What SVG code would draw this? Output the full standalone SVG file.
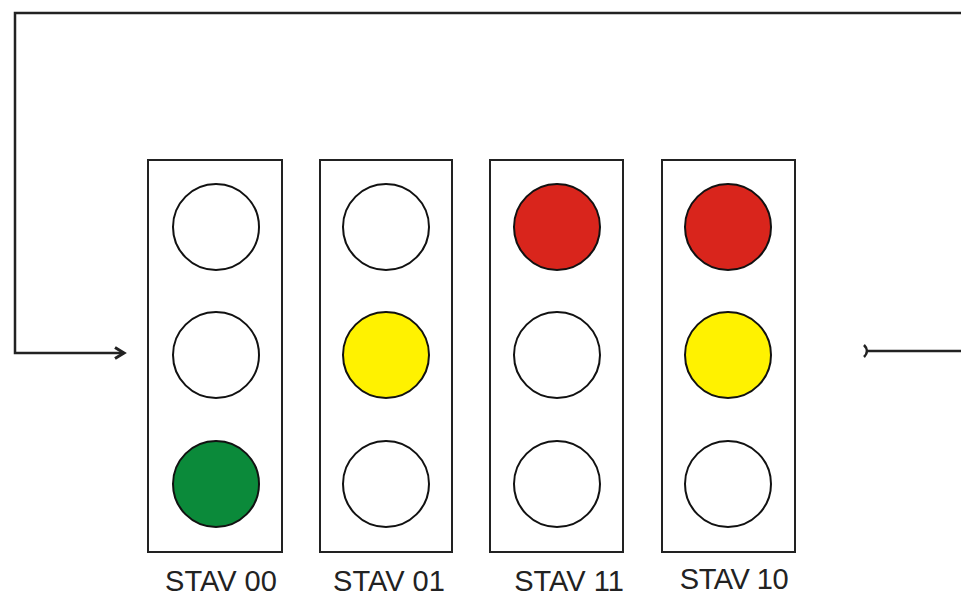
<svg xmlns="http://www.w3.org/2000/svg" width="961" height="597" viewBox="0 0 961 597">
<style>
.box{fill:#fff;stroke:#222;stroke-width:2}
.lamp{stroke:#111;stroke-width:2}
.off{fill:#fff}
.red{fill:#d9251c}
.yel{fill:#fff200}
.grn{fill:#0b8a3a}
.wire{fill:none;stroke:#222;stroke-width:2.5}
.lbl{font-family:"Liberation Sans",Arial,sans-serif;font-size:29px;fill:#222}
</style>
<defs>
<marker id="arr" markerWidth="14" markerHeight="14" refX="11" refY="7" orient="auto" markerUnits="userSpaceOnUse">
<path d="M2,1.5 L11,7 L2,12.5" fill="none" stroke="#222" stroke-width="3"/>
</marker>
</defs>
<g id="connectors">
<path class="wire" d="M961,13 H15 V353 H124" marker-end="url(#arr)"/>
<path class="wire" d="M961,351 H867"/>
<path class="wire" d="M864,345 Q870,351 864,357"/>
</g>
<g id="stav00">
<rect class="box" x="148" y="160" width="134" height="392"/>
<circle class="lamp off" cx="216" cy="227" r="43"/>
<circle class="lamp off" cx="216" cy="355" r="43"/>
<circle class="lamp grn" cx="216" cy="484" r="43"/>
<text class="lbl" x="221" y="591" text-anchor="middle">STAV 00</text>
</g>
<g id="stav01">
<rect class="box" x="320" y="160" width="132" height="392"/>
<circle class="lamp off" cx="386" cy="227" r="43"/>
<circle class="lamp yel" cx="386" cy="355" r="43"/>
<circle class="lamp off" cx="386" cy="484" r="43"/>
<text class="lbl" x="389" y="591" text-anchor="middle">STAV 01</text>
</g>
<g id="stav11">
<rect class="box" x="490" y="160" width="133" height="392"/>
<circle class="lamp red" cx="557" cy="227" r="43"/>
<circle class="lamp off" cx="557" cy="355" r="43"/>
<circle class="lamp off" cx="557" cy="484" r="43"/>
<text class="lbl" x="569" y="591" text-anchor="middle">STAV 11</text>
</g>
<g id="stav10">
<rect class="box" x="662" y="160" width="133" height="392"/>
<circle class="lamp red" cx="728" cy="227" r="43"/>
<circle class="lamp yel" cx="728" cy="355" r="43"/>
<circle class="lamp off" cx="728" cy="484" r="43"/>
<text class="lbl" x="734" y="589" text-anchor="middle" letter-spacing="-0.5">STAV 10</text>
</g>
</svg>
